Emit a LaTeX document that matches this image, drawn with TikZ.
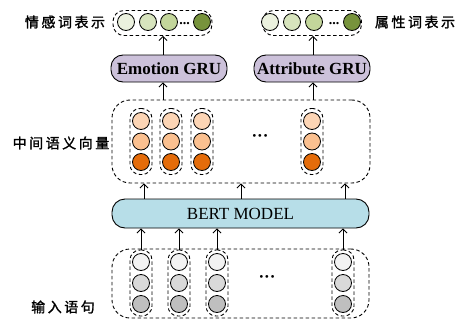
\documentclass[tikz,border=0pt]{standalone}
\usepackage{fontspec}
\setmainfont{Liberation Serif}
\newfontfamily\cjk[LetterSpace=18,FakeBold=1.5]{Noto Sans CJK SC}
\usetikzlibrary{arrows.meta}

\definecolor{outA}{HTML}{EBF1DE}
\definecolor{outB}{HTML}{D7E4BD}
\definecolor{outC}{HTML}{C3D69B}
\definecolor{outD}{HTML}{77933C}
\definecolor{midA}{HTML}{FCD5B5}
\definecolor{midB}{HTML}{FAC090}
\definecolor{midC}{HTML}{E46C0A}
\definecolor{inA}{HTML}{F2F2F2}
\definecolor{inB}{HTML}{D9D9D9}
\definecolor{inC}{HTML}{BFBFBF}
\definecolor{gruFill}{HTML}{CCC1DA}
\definecolor{bertFill}{HTML}{B7DEE8}

\tikzset{
  dot/.style={circle, draw=black, line width=0.8pt, minimum size=17pt, inner sep=0pt},
  dashbox/.style={draw=black, line width=0.9pt, dash pattern=on 3.5pt off 2.5pt},
  colbox/.style={dashbox, rounded corners=10pt, minimum width=22pt, minimum height=66pt, inner sep=0pt},
  groupbox/.style={dashbox, rounded corners=18pt, inner sep=0pt},
  outbox/.style={dashbox, rounded corners=11pt, minimum width=99pt, minimum height=25pt, inner sep=0pt},
  grubox/.style={draw=black, line width=0.9pt, fill=gruFill, rounded corners=12pt,
    minimum width=116pt, minimum height=27pt, inner sep=0pt, font=\fontsize{17}{19}\selectfont\bfseries},
  bertbox/.style={draw=black, line width=0.9pt, fill=bertFill, rounded corners=13pt,
    minimum width=257pt, minimum height=29pt, inner sep=0pt, font=\fontsize{17}{19}\selectfont},
  lbl/.style={font=\fontsize{14}{16}\selectfont\cjk, inner sep=0pt},
  smalldots/.style={inner sep=0pt, font=\fontsize{14}{14}\selectfont\bfseries},
  middots/.style={inner sep=0pt, font=\fontsize{17}{17}\selectfont\bfseries},
  arr/.style={line width=0.8pt, -{Straight Barb[length=4pt,width=8pt]}},
}

\begin{document}
\begin{tikzpicture}[x=1pt, y=-1pt]
\useasboundingbox (0,0) rectangle (462,321);

% ---------- output representations ----------
\node[outbox] (eout) at (162.5,23) {};
\node[dot, fill=outA] (e1) at (126,22) {};
\node[dot, fill=outB] (e2) at (148,22) {};
\node[dot, fill=outC] (e3) at (169,22) {};
\node[smalldots] (edots) at (184.5,24) {...};
\node[dot, fill=outD] (e4) at (202,22) {};

\node[outbox] (aout) at (312,23) {};
\node[dot, fill=outA] (a1) at (270,22) {};
\node[dot, fill=outB] (a2) at (292,22) {};
\node[dot, fill=outC] (a3) at (314,22) {};
\node[smalldots] (adots) at (334,24) {...};
\node[dot, fill=outD] (a4) at (352,22) {};

\node[lbl] (elbl) at (65,22) {情感词表示};
\node[lbl] (albl) at (415,22) {属性词表示};

% ---------- GRU layers ----------
\node[grubox] (egru) at (169,68.5) {Emotion GRU};
\node[grubox] (agru) at (312,68.5) {Attribute GRU};

% ---------- intermediate semantic vectors ----------
\node[groupbox, minimum width=258pt, minimum height=83pt] (mid) at (241,141.5) {};
\foreach \i/\x in {1/141, 2/171, 3/202, 4/312} {
  \node[colbox] (m\i) at (\x,141.5) {};
  \node[dot, fill=midA] (m\i a) at (\x,121) {};
  \node[dot, fill=midB] (m\i b) at (\x,141.5) {};
  \node[dot, fill=midC] (m\i c) at (\x,162) {};
}
\node[middots] (mdots) at (260,138) {···};
\node[lbl] (mlbl) at (61,143) {中间语义向量};

% ---------- BERT ----------
\node[bertbox] (bert) at (240.5,213.5) {BERT MODEL};

% ---------- input sentence ----------
\node[groupbox, minimum width=257pt, minimum height=69pt] (inp) at (240.5,283.5) {};
\foreach \i/\x in {1/141, 2/179, 3/217, 4/343} {
  \node[colbox] (n\i) at (\x,283) {};
  \node[dot, fill=inA] (n\i a) at (\x,262) {};
  \node[dot, fill=inB] (n\i b) at (\x,283) {};
  \node[dot, fill=inC] (n\i c) at (\x,304) {};
}
\node[middots] (ndots) at (267,279) {···};
\node[lbl] (nlbl) at (63,307) {输入语句};

% ---------- connectors ----------
\foreach \i in {1,...,4} {
  \draw[arr] (n\i.north) -- (n\i.north |- bert.south);
}
\foreach \x in {144, 241, 345} {
  \coordinate (up\x) at (\x,0);
  \draw[arr] (bert.north -| up\x) -- (mid.south -| up\x);
}
\coordinate (ecol) at (163,0);
\coordinate (acol) at (313,0);
\draw[arr] (mid.north -| ecol) -- (egru.south -| ecol);
\draw[arr] (mid.north -| acol) -- (agru.south -| acol);
\draw[arr] (egru.north -| ecol) -- (eout.south -| ecol);
\draw[arr] (agru.north -| acol) -- (aout.south -| acol);
\end{tikzpicture}
\end{document}
